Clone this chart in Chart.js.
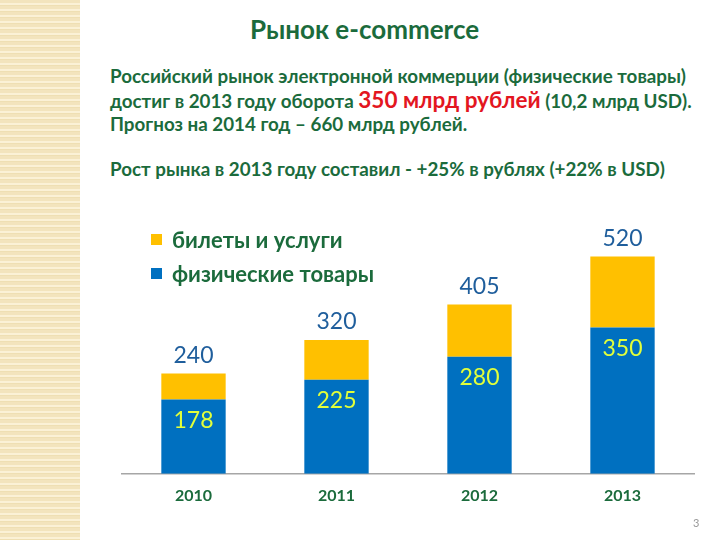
<!DOCTYPE html>
<html>
<head>
<meta charset="utf-8">
<script src="https://cdn.jsdelivr.net/npm/chart.js@4"></script>
<style>
  body { margin: 0; background: #fff; }
  #slide { position: relative; width: 720px; height: 540px; overflow: hidden; font-family: Lato, "Open Sans", sans-serif; }
  #stripe { position: absolute; left: 0; top: 0; width: 80px; height: 540px;
    background: repeating-linear-gradient(180deg, #f3e4bd 0, #f3e4bd 3px, #fbf1d6 3px, #fbf1d6 5px, #efdfb3 5px, #efdfb3 6px); }
  .t { position: absolute; color: #1b6b3c; font-weight: bold; white-space: nowrap; }
  #title { left: 250px; top: 13px; font-size: 26px; }
  #p1 { left: 110px; top: 64px; font-size: 18.8px; line-height: 23.5px; }
  #p2 { left: 110px; top: 157px; font-size: 18.8px; }
  .red { color: #e3161f; font-size: 22.5px; }
  #legend { position: absolute; left: 151px; top: 222px; }
  .li { display: flex; align-items: center; height: 34px; font-size: 22px; font-weight: bold; color: #1b6b3c; }
  .sw { width: 11px; height: 11px; margin-right: 10px; }
  #pg { position: absolute; left: 693px; top: 516px; font-size: 11px; color: #999; }
  canvas { position: absolute; left: 0; top: 0; }
</style>
</head>
<body>
<div id="slide">
  <div id="stripe"></div>
  <div class="t" id="title">Рынок e-commerce</div>
  <div class="t" id="p1">Российский рынок электронной коммерции (физические товары)<br>достиг в 2013 году оборота <span class="red">350 млрд рублей</span> (10,2 млрд USD).<br>Прогноз на 2014 год – 660 млрд рублей.</div>
  <div class="t" id="p2">Рост рынка в 2013 году составил - +25% в рублях (+22% в USD)</div>
  <canvas id="chart" width="720" height="540"></canvas>
  <div id="legend"></div>
  <div id="pg">3</div>
</div>
<script>
// Data
const years = ["2010", "2011", "2012", "2013"];
const goods = [178, 225, 280, 350];      // физические товары
const totals = [240, 320, 405, 520];     // всего
const services = totals.map((t, i) => t - goods[i]); // билеты и услуги

const blue = "#0070c0";
const yellow = "#ffc000";

// Labels on bars
const labelPlugin = {
  id: "barLabels",
  afterDatasetsDraw(chart) {
    const c = chart.ctx;
    const lower = chart.getDatasetMeta(0).data;
    const upper = chart.getDatasetMeta(1).data;
    c.save();
    c.textAlign = "center";
    c.textBaseline = "middle";
    c.font = "23px Lato, 'Open Sans', sans-serif";
    lower.forEach((bar, i) => {
      c.fillStyle = "#e2ff3a";
      c.fillText(goods[i], bar.x, bar.y + 21);
      c.fillStyle = "#1f5e9c";
      c.fillText(totals[i], upper[i].x, upper[i].y - 18);
    });
    c.restore();
  }
};

new Chart(document.getElementById("chart"), {
  type: "bar",
  data: {
    labels: years,
    datasets: [
      { label: "физические товары", data: goods, backgroundColor: blue },
      { label: "билеты и услуги", data: services, backgroundColor: yellow }
    ]
  },
  options: {
    responsive: false,
    animation: false,
    layout: { padding: { left: 122, right: 26, top: 223, bottom: 23 } },
    datasets: { bar: { categoryPercentage: 1, barPercentage: 0.45 } },
    plugins: { legend: { display: false }, tooltip: { enabled: false } },
    scales: {
      x: {
        stacked: true,
        grid: { display: false, drawTicks: false },
        border: { color: "#a6a6a6", width: 1.5 },
        ticks: { color: "#1b6b3c", padding: 12, font: { family: "Lato, 'Open Sans', sans-serif", size: 16, weight: "bold" } }
      },
      y: { stacked: true, display: false, min: 0, max: 600 }
    }
  },
  plugins: [labelPlugin]
});

// Legend (upper series first)
const legend = document.getElementById("legend");
[["билеты и услуги", yellow], ["физические товары", blue]].forEach(([name, col]) => {
  legend.innerHTML += '<div class="li"><div class="sw" style="background:' + col + '"></div>' + name + '</div>';
});
</script>
</body>
</html>
